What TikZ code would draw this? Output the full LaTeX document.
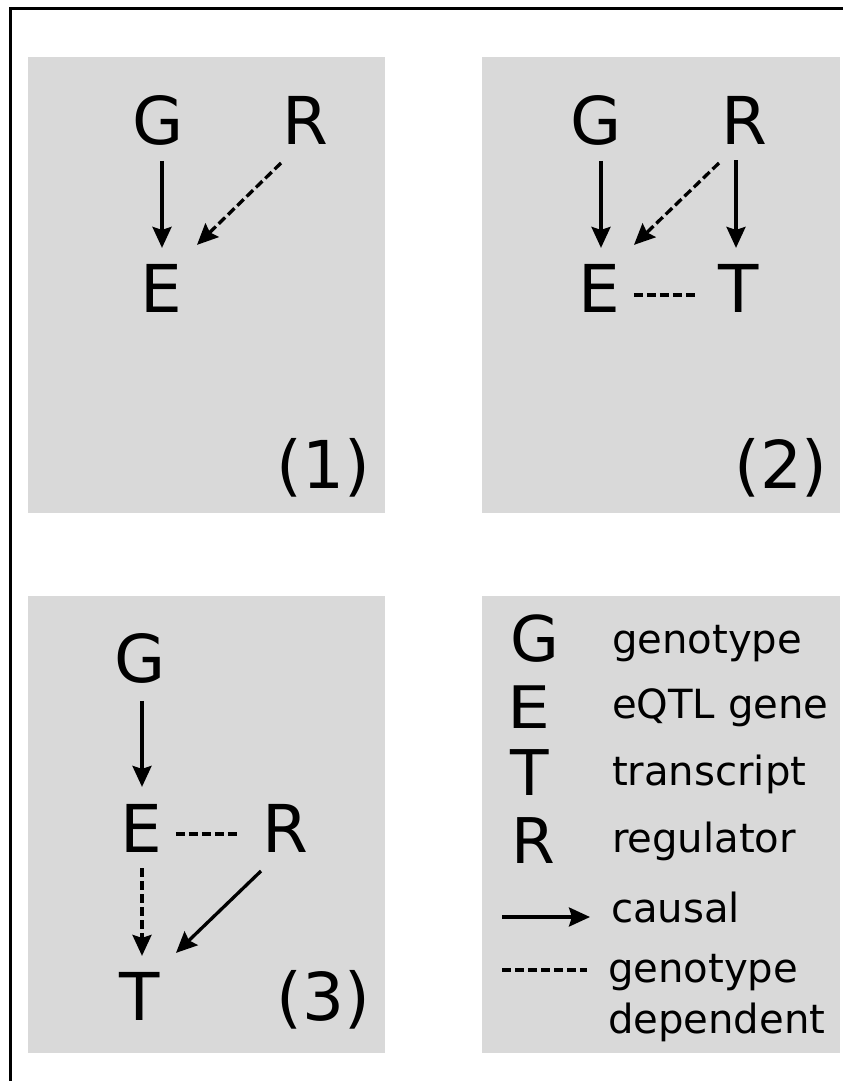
\documentclass[tikz,border=0pt]{standalone}
\usepackage{fontspec}
\setmainfont{DejaVu Sans}
\usetikzlibrary{arrows.meta}
\definecolor{panelgray}{HTML}{D9D9D9}
\begin{document}
\begin{tikzpicture}[x=1pt,y=-1pt,
  big/.style={inner sep=0pt, outer sep=0pt, anchor=base, font=\fontsize{66}{66}\selectfont},
  leg/.style={inner sep=0pt, outer sep=0pt, anchor=base, font=\fontsize{63}{63}\selectfont},
  legtxt/.style={inner sep=0pt, outer sep=0pt, anchor=base west, font=\fontsize{40.2}{40.2}\selectfont},
  tip/.style={-{Stealth[length=21pt,width=19pt,inset=3pt]}},
  causal/.style={line width=3.3pt, tip},
  dep/.style={line width=3.3pt, dash pattern=on 9pt off 4pt},
  deparrow/.style={dep, tip},
  panel/.style={fill=panelgray, draw=none},
  frameline/.style={line width=3.5pt}
]
\useasboundingbox (0,0) rectangle (843,1081);
\fill[white] (0,0) rectangle (843,1081);
% frame
\draw[frameline] (10.5,1081) -- (10.5,8.5) -- (843,8.5);
% panels
\path[panel] (28,57) rectangle (385,513);
\path[panel] (482,57) rectangle (840,513);
\path[panel] (28,596) rectangle (385,1053);
\path[panel] (482,596) rectangle (840,1053);

% panel 1
\node[big] (g1) at (158,144) {G};
\node[big] (r1) at (305,144) {R};
\node[big] (e1) at (161,312) {E};
\node[big] (l1) at (323.5,488) {(1)};
\draw[causal] ([xshift=4pt,yshift=-16pt]g1.south) -- ([xshift=1pt,yshift=16pt]e1.north);
\draw[deparrow] ([xshift=-24pt,yshift=-19pt]r1.south) -- ([xshift=36pt,yshift=19pt]e1.north);

% panel 2
\node[big] (g2) at (596,144) {G};
\node[big] (r2) at (744,144) {R};
\node[big] (e2) at (599,312) {E};
\node[big] (t2) at (739,312) {T};
\node[big] (l2) at (781,488) {(2)};
\draw[causal] ([xshift=5pt,yshift=-16pt]g2.south) -- ([xshift=2pt,yshift=16pt]e2.north);
\draw[causal] ([xshift=-8pt,yshift=-16pt]r2.south) -- ([xshift=-3pt,yshift=16pt]t2.north);
\draw[deparrow] ([xshift=-25pt,yshift=-19pt]r2.south) -- ([xshift=35pt,yshift=19pt]e2.north);
\draw[dep] ([xshift=14pt,yshift=17pt]e2.base east) -- ([xshift=-21pt,yshift=17pt]t2.base west);

% panel 3
\node[big] (g3) at (140,682) {G};
\node[big] (e3) at (141,852) {E};
\node[big] (r3) at (285,852) {R};
\node[big] (t3) at (139.5,1020) {T};
\node[big] (l3) at (323.5,1020) {(3)};
\draw[causal] ([xshift=2pt,yshift=-18pt]g3.south) -- ([xshift=1pt,yshift=17pt]e3.north);
\draw[dep] ([xshift=14pt,yshift=18pt]e3.base east) -- ([xshift=-22pt,yshift=18pt]r3.base west);
\draw[deparrow] ([xshift=1pt,yshift=-16pt]e3.south) -- ([xshift=2.5pt,yshift=16pt]t3.north);
\draw[causal] ([xshift=-24pt,yshift=-19pt]r3.south) -- ([xshift=36.5pt,yshift=19pt]t3.north);

% legend
\node[leg] (lg) at (535,661) {G};
\node[leg, xscale=1.08, yscale=0.93, transform shape] (le) at (529,728) {E};
\node[leg] (lt) at (530,795) {T};
\node[leg] (lr) at (533.5,863) {R};
\node[legtxt] (tg) at (612,653) {genotype};
\node[legtxt] (te) at (612,718) {eQTL gene};
\node[legtxt] (tt) at (612,785) {transcript};
\node[legtxt] (tr) at (612,852) {regulator};
\node[legtxt] (tc) at (611,922) {causal};
\node[legtxt] (td1) at (608,982) {genotype};
\node[legtxt] (td2) at (608,1033) {dependent};
\coordinate (ca) at (502,917);
\coordinate (cb) at (590,917);
\coordinate (da) at (502,970);
\coordinate (db) at (587,970);
\draw[causal] (ca) -- (cb);
\draw[dep] (da) -- (db);
\end{tikzpicture}
\end{document}
